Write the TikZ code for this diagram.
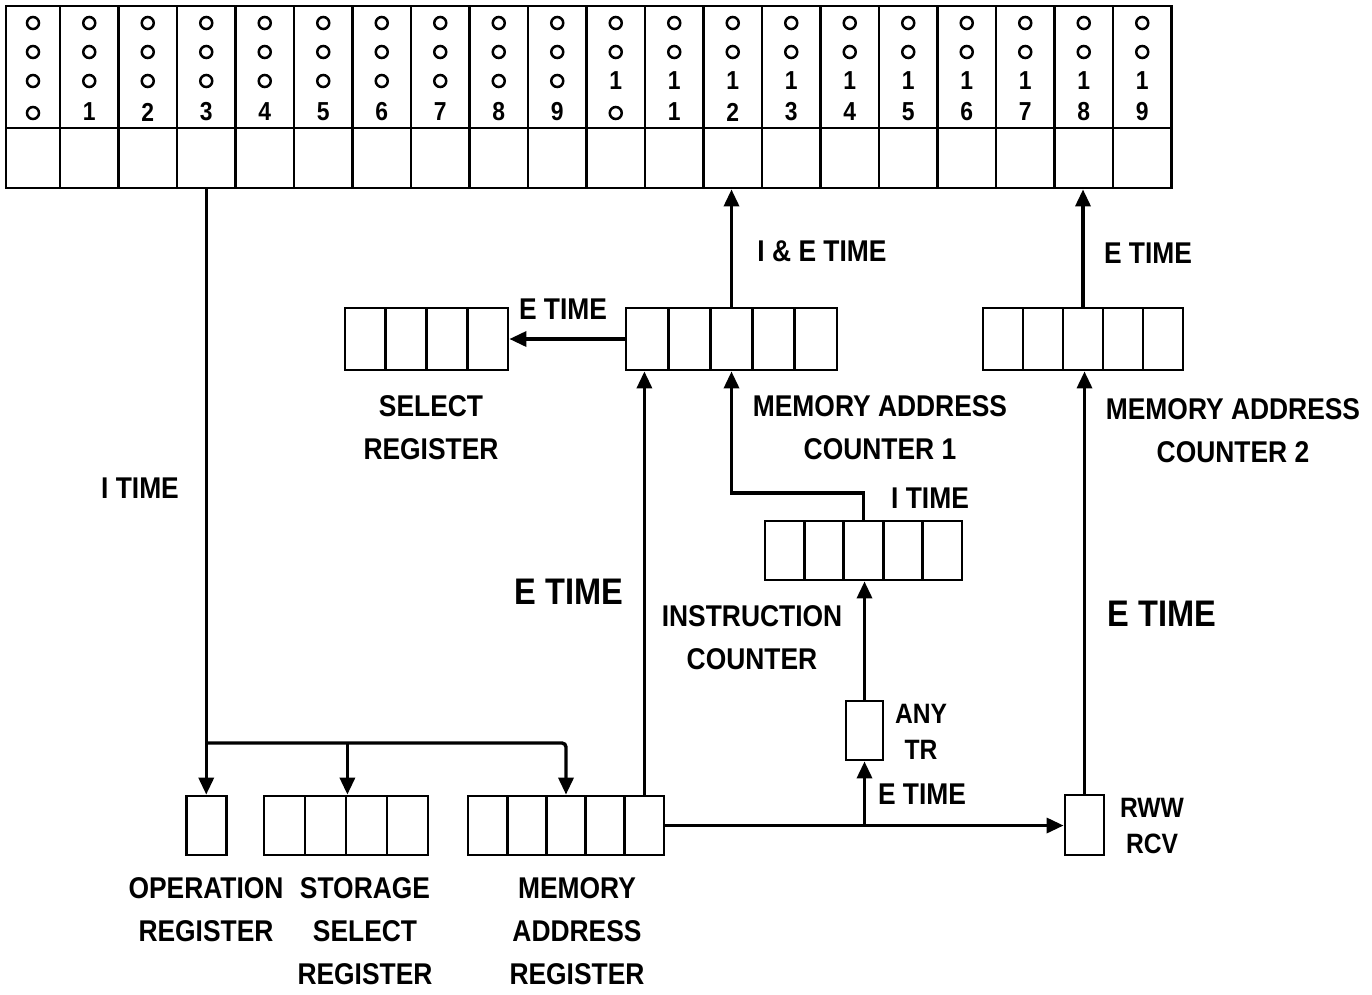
\documentclass[tikz,border=0pt]{standalone}
\usepackage{fontspec}
\setmainfont{Liberation Sans}[FakeStretch=0.88]
\usetikzlibrary{arrows.meta,calc}
\tikzset{
  cell/.style={draw, line width=2.8pt, inner sep=0pt, minimum height=60pt},
  ring/.style={draw, circle, line width=2.5pt, minimum size=12pt, inner sep=0pt},
  digit/.style={font=\fontsize{26}{26}\selectfont\bfseries, inner sep=0pt},
  lbl/.style={font=\fontsize{30}{43}\selectfont\bfseries, align=center, inner sep=0pt},
  biglbl/.style={font=\fontsize{37}{44}\selectfont\bfseries, align=center, inner sep=0pt},
  tightlbl/.style={font=\fontsize{28}{36}\selectfont\bfseries, align=center, inner sep=0pt},
  arrow/.style={-{Triangle[length=17pt,width=15pt]}, line width=3.4pt}
}
\begin{document}
\begin{tikzpicture}[x=1pt, y=-1pt]
  \useasboundingbox (0,0) rectangle (1372,994);
  % address board, twenty columns
  \foreach \i in {0,...,19}{
    \pgfmathsetmacro\colleft{\i==0 ? 6 : 1.5+58.5*\i}
    \pgfmathsetmacro\colright{1.5+58.5*(\i+1)}
    \pgfmathsetmacro\colmid{(\colleft+\colright)/2}
    \pgfmathsetmacro\colw{\colright-\colleft}
    \pgfmathtruncatemacro\units{mod(\i,10)}
    \node[cell, minimum width=\colw pt, minimum height=122pt] (t\i) at (\colmid,67) {};
    \node[cell, minimum width=\colw pt] (b\i) at (\colmid,158) {};
    \node[ring] (t\i-a) at (\colmid,23) {};
    \node[ring] (t\i-b) at (\colmid,52) {};
    \ifnum\i<10 \node[ring] (t\i-c) at (\colmid,81) {}; \else \node[digit] (t\i-c) at (\colmid,81) {1}; \fi
    \ifnum\units=0 \node[ring] (t\i-d) at (\colmid,113) {}; \else \node[digit] (t\i-d) at (\colmid,112) {\units}; \fi
  }
  % registers
  \foreach \k in {1,...,4}
    \node[cell, minimum width=40.75pt, minimum height=62pt] (sel\k) at ({345+40.75*(\k-0.5)},339) {};
  \foreach \k in {1,...,5}
    \node[cell, minimum width=42.2pt, minimum height=62pt] (maca\k) at ({626+42.2*(\k-0.5)},339) {};
  \foreach \k in {1,...,5}
    \node[cell, minimum width=40pt, minimum height=62pt] (macb\k) at ({983+40*(\k-0.5)},339) {};
  \foreach \k in {1,...,5}
    \node[cell, minimum width=39.4pt, minimum height=59pt] (ic\k) at ({765+39.4*(\k-0.5)},550.5) {};
  \node[cell, minimum width=37pt, minimum height=59pt] (anytr) at (864.5,730.5) {};
  \node[cell, minimum width=40pt, minimum height=59pt] (opr) at (206.25,825.5) {};
  \foreach \k in {1,...,4}
    \node[cell, minimum width=41pt, minimum height=59pt] (ssr\k) at ({264+41*(\k-0.5)},825.5) {};
  \foreach \k in {1,...,5}
    \node[cell, minimum width=39.2pt, minimum height=59pt] (mar\k) at ({468+39.2*(\k-0.5)},825.5) {};
  \node[cell, minimum width=39pt, minimum height=60pt] (rww) at (1084.5,825) {};
  % connectors
  \coordinate (opsplit) at (206.25,743);
  \coordinate (icbend) at (864,493);
  \draw[arrow] (b3.south) -- (opr.north);
  \draw[arrow, rounded corners=4pt] (opsplit) -| (mar3.north);
  \draw[arrow] (opsplit -| ssr2.north east) -- (ssr2.north east);
  \draw[arrow] (mar5.north) -- (mar5.north |- maca1.south);
  \draw[arrow] (maca1.west) -- (maca1.west -| sel4.east);
  \draw[arrow] (maca3.north) -- (maca3.north |- b12.south);
  \draw[arrow] (ic3.north) -- (ic3.north |- icbend) -| (maca3.south);
  \draw[arrow] (anytr.north) -- (anytr.north |- ic3.south);
  \draw[arrow] (mar5.east) -- (mar5.east -| rww.west);
  \draw[arrow] (anytr.south |- mar5.east) -- (anytr.south);
  \draw[arrow] (rww.north) -- (rww.north |- macb3.south);
  \draw[arrow] (macb3.north) -- (macb3.north |- b18.south);
  % labels
  \node[lbl] (itime) at (140,488) {I TIME};
  \node[lbl] (ietime) at (822,251) {I \& E TIME};
  \node[lbl] (etimeb) at (1148,253) {E TIME};
  \node[lbl] (etimesel) at (563,309) {E TIME};
  \node[lbl] (sellbl) at (431,428) {SELECT\\REGISTER};
  \node[lbl] (macalbl) at (880,428) {MEMORY ADDRESS\\COUNTER 1};
  \node[lbl] (macblbl) at (1233,431) {MEMORY ADDRESS\\COUNTER 2};
  \node[lbl] (itimeic) at (930,498) {I TIME};
  \node[biglbl] (etimemar) at (569,592) {E TIME};
  \node[lbl] (iclbl) at (752,638) {INSTRUCTION\\COUNTER};
  \node[biglbl] (etimerww) at (1162,614) {E TIME};
  \node[tightlbl] (anylbl) at (921,732) {ANY\\TR};
  \node[lbl] (etimetr) at (922,794) {E TIME};
  \node[tightlbl] (rwwlbl) at (1152,826) {RWW\\RCV};
  \node[lbl] (oplbl) at (206,910) {OPERATION\\REGISTER};
  \node[lbl] (ssrlbl) at (365,931) {STORAGE\\SELECT\\REGISTER};
  \node[lbl] (marlbl) at (577,931) {MEMORY\\ADDRESS\\REGISTER};
\end{tikzpicture}
\end{document}
